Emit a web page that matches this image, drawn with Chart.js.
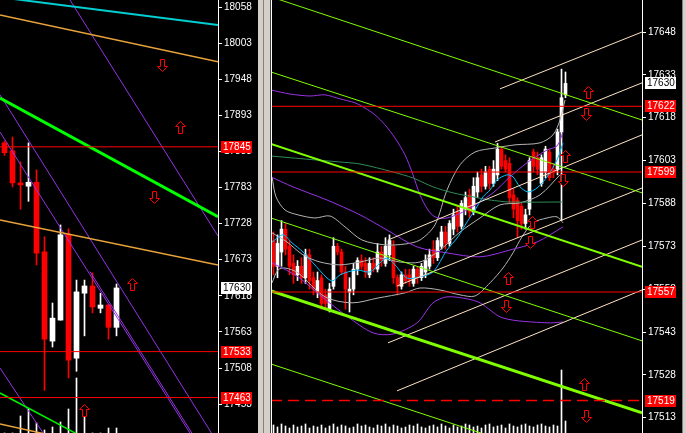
<!DOCTYPE html>
<html>
<head>
<meta charset="utf-8">
<title>chart</title>
<script src="https://cdn.jsdelivr.net/npm/chart.js"></script>
<style>
  body { margin: 0; background: #d4d0c8; width: 686px; height: 433px; overflow: hidden; position: relative; }
  .pane { position: absolute; top: 0; height: 433px; background: #000; }
  #left { left: 0; width: 258px; }
  #right { left: 271px; width: 411px; }
  .split { position: absolute; top: 0; height: 433px; width: 1px; background: #808080; }
</style>
</head>
<body>
<div class="pane" id="left"><canvas id="chartLeft" width="258" height="433"></canvas></div>
<div class="split" style="left:263px"></div>
<div class="split" style="left:270px;background:#404040"></div>
<div class="split" style="left:682px"></div>
<div class="pane" id="right"><canvas id="chartRight" width="411" height="433"></canvas></div>

<script>
// ---- left pane: candles ----
const leftOpen   = [17851, 17839, 17790, 17785, 17791, 17685, 17549, 17581, 17712, 17523, 17622, 17633, 17599, 17604, 17570];
const leftHigh   = [17854, 17860, 17822, 17851, 17810, 17708, 17607, 17726, 17720, 17642, 17642, 17653, 17622, 17605, 17636];
const leftLow    = [17832, 17784, 17750, 17762, 17665, 17474, 17540, 17581, 17493, 17503, 17557, 17592, 17592, 17552, 17557];
const leftClose  = [17836, 17790, 17787, 17791, 17683, 17552, 17584, 17711, 17520, 17624, 17633, 17601, 17604, 17570, 17630];
const leftVolume = [0, 0, 17, 24, 10, 3, 6, 11, 24, 55, 16, 0, 0, 5, 5];

const leftTicks = [18058, 18003, 17948, 17893, 17838, 17783, 17728, 17673, 17618, 17563, 17508, 17453];
const leftLevels = [17845, 17533, 17463];
const leftLast = 17630;

// trend lines: pairs of [bar index, price]
const leftCyanLine   = [[-0.5625, 18072.9], [26.6875, 18030.6]];
const leftOrangeLines = [
  [[-0.5625, 18045.8], [26.6875, 17974.7]],
  [[-0.5625, 17733.5], [26.6875, 17665.0]],
  [[-0.5625, 17422.7], [26.6875, 17349.6]]
];
const leftGreenThick = [[-0.5625, 17919.4], [26.6875, 17738.5]];
const leftGreenThin  = [[-0.5625, 17469.9], [26.6875, 17293.2]];
const leftPurpleLines = [
  [[6.9375, 18093.0], [26.6875, 17709.1]],
  [[-0.5625, 17924.2], [26.6875, 17392.9]],
  [[-0.5625, 17867.6], [26.6875, 17341.2]],
  [[10.6875, 17654.9], [26.6875, 17345.8]],
  [[-0.5625, 17508.0], [6.9375, 17370.1]]
];
const leftArrowsUp   = [[21.94, 17875.2], [16.06, 17634.5], [9.94, 17444.0]];
const leftArrowsDown = [[19.69, 17969.6], [18.81, 17768.5]];

// ---- right pane: candles ----
const rightOpen  = [17575,17566,17571,17579,17573,17567,17563,17566,17562,17570,17562,17557,17562,17556,17551,17559,17573,17571,17564,17557,
                    17558,17565,17568,17567,17563,17567,17565,17571,17567,17570,17573,17562,17559,17563,17563,17560,17565,17562,17564,17566,
                    17572,17569,17573,17578,17574,17579,17585,17580,17586,17591,17585,17592,17598,17594,17600,17595,17598,17607,17603,17602,
                    17591,17589,17587,17581,17586,17606,17604,17595,17599,17606,17600,17600,17613,17626];
const rightHigh  = [17578,17577,17582,17581,17575,17570,17568,17569,17572,17572,17564,17564,17563,17558,17560,17576,17574,17572,17566,17562,
                    17567,17569,17570,17569,17569,17569,17574,17573,17576,17577,17575,17563,17564,17565,17565,17566,17566,17567,17570,17572,
                    17575,17576,17580,17580,17582,17586,17587,17589,17592,17593,17597,17599,17600,17601,17601,17603,17609,17608,17605,17604,
                    17593,17590,17588,17586,17604,17607,17606,17605,17608,17607,17602,17614,17635,17634];
const rightLow   = [17563,17562,17566,17570,17563,17560,17561,17560,17560,17558,17556,17555,17551,17551,17550,17558,17570,17563,17551,17550,
                    17556,17563,17565,17562,17562,17564,17564,17566,17566,17568,17560,17556,17558,17560,17559,17559,17560,17561,17562,17565,
                    17567,17568,17572,17572,17573,17577,17578,17579,17584,17583,17584,17590,17592,17593,17593,17594,17596,17600,17599,17588,
                    17583,17576,17579,17579,17584,17599,17598,17594,17597,17596,17597,17598,17582,17625];
const rightClose = [17566,17574,17579,17572,17566,17563,17566,17562,17570,17561,17558,17561,17553,17553,17558,17573,17571,17564,17558,17558,
                    17565,17568,17566,17564,17567,17565,17571,17568,17573,17575,17562,17559,17563,17561,17561,17565,17562,17566,17568,17570,
                    17569,17575,17578,17574,17581,17584,17580,17588,17590,17585,17594,17597,17594,17599,17595,17600,17607,17601,17600,17590,
                    17586,17582,17581,17584,17603,17601,17600,17604,17607,17597,17599,17613,17625,17630];
const rightVolume = [8,6,9,7,5,8,6,7,9,5,7,6,8,5,7,9,6,8,7,5,6,9,7,8,6,5,8,7,9,6,8,7,5,6,8,7,9,6,5,7,
                     8,6,9,7,5,8,6,7,9,8,6,7,5,8,9,6,7,8,5,9,7,6,8,9,7,6,8,9,7,6,8,7,63,12];

const rightTicks = [17648, 17633, 17618, 17603, 17588, 17573, 17558, 17543, 17528, 17513];
const rightLevels = [17622, 17599, 17557];
const rightDashedLevel = 17519;
const rightLast = 17630;

const rightCyan = [[-0.375,17574.5],[2.375,17577.0],[4.625,17574.2],[7.375,17571.0],[9.875,17567.2],[13.375,17561.9],[14.875,17560.9],
  [16.625,17563.0],[20.875,17564.7],[24.125,17564.0],[26.625,17567.2],[28.375,17568.9],[30.375,17566.5],[33.375,17561.9],[36.625,17562.3],
  [39.875,17564.0],[43.375,17571.7],[46.125,17576.3],[48.375,17581.5],[50.375,17585.7],[52.375,17590.3],[54.125,17592.7],[55.875,17596.2],
  [58.375,17598.0],[59.875,17597.3],[61.625,17593.8],[63.625,17592.0],[65.875,17593.4],[68.375,17597.3],[70.875,17603.2],[72.375,17609.2]];
const rightSeaGreen = [[-0.625,17604.6],[7.375,17603.6],[16.625,17602.5],[21.625,17601.8],[29.875,17599.0],[34.875,17596.9],[39.875,17593.8],
  [44.875,17591.7],[49.875,17590.3],[54.125,17589.2],[59.125,17588.5],[72.375,17588.5]];
const rightPurpleUpper = [[-0.625,17627.7],[4.125,17626.3],[9.125,17625.6],[12.875,17626.0],[16.625,17624.6],[20.375,17623.2],[22.875,17621.4],
  [25.375,17619.0],[27.875,17615.5],[30.375,17610.9],[32.875,17605.0],[34.875,17598.0],[36.625,17591.0],[38.625,17585.7],[40.375,17583.3],
  [43.375,17582.9],[48.375,17585.7],[54.875,17591.7],[59.125,17597.3],[63.375,17602.2],[68.375,17606.7],[70.875,17608.1],[72.375,17613.0]];
const rightPurpleMid = [[-0.625,17597.3],[4.875,17593.8],[13.375,17589.2],[21.625,17584.0],[28.375,17578.7],[35.875,17572.8],[43.375,17570.7],
  [51.625,17569.3],[59.125,17571.7],[65.875,17574.5],[72.375,17579.8]];
const rightPurpleLower = [[-0.375,17567.2],[6.125,17562.3],[12.125,17555.3],[18.625,17548.3],[24.875,17542.7],[29.875,17542.3],[35.875,17546.2],
  [39.875,17553.2],[43.375,17555.3],[48.375,17554.6],[51.625,17553.2],[57.375,17547.9],[68.375,17546.2],[72.375,17546.5]];
const rightGrayUpper = [[-0.375,17597.3],[0.625,17590.3],[2.875,17585.7],[6.125,17584.0],[10.375,17582.9],[14.125,17583.6],[17.875,17579.8],
  [22.125,17575.2],[27.875,17573.5],[32.875,17573.8],[36.625,17575.2],[40.375,17580.5],[43.375,17592.7],[46.625,17601.5],[50.375,17606.0],
  [55.375,17607.4],[60.375,17608.5],[66.625,17609.2],[69.875,17612.0],[71.625,17617.2],[72.875,17624.2]];
const rightGrayMid = [[-0.375,17577.7],[3.375,17574.5],[7.375,17570.0],[11.625,17567.5],[16.625,17566.5],[21.625,17567.5],[26.625,17568.9],
  [31.625,17567.5],[36.625,17567.5],[41.625,17571.7],[46.625,17578.0],[51.625,17582.9],[56.625,17587.5],[61.625,17588.2],[66.625,17591.0],[71.625,17598.0]];
const rightGrayLower = [[-0.375,17560.2],[1.125,17564.7],[2.875,17565.4],[6.125,17563.7],[12.875,17555.3],[19.625,17553.2],[26.125,17554.9],
  [32.875,17556.7],[36.625,17558.4],[41.625,17557.7],[46.625,17556.0],[50.375,17555.6],[54.125,17560.2],[57.375,17565.4],[59.875,17570.7],
  [62.125,17576.3],[64.875,17581.2],[68.375,17582.9],[70.875,17583.3],[72.375,17581.2]];

const rightChannel = [   // falling yellow-green channel
  [[-0.625, 17660.3], [92.125, 17617.2]],
  [[-0.625, 17634.0], [92.125, 17591.7]],
  [[-0.625, 17608.8], [92.125, 17565.8]],
  [[-0.625, 17582.9], [92.125, 17539.9]],
  [[-0.625, 17557.4], [92.125, 17514.7]],
  [[-0.625, 17531.8], [92.125, 17489.1]]
];
const rightRising = [    // rising bisque lines
  [[56.625, 17628.1], [92.125, 17648.0]],
  [[55.375, 17609.5], [92.125, 17630.2]],
  [[28.625, 17575.2], [92.125, 17612.0]],
  [[30.875, 17559.1], [92.125, 17593.4]],
  [[28.625, 17539.2], [92.125, 17575.2]],
  [[30.875, 17522.4], [92.125, 17557.7]]
];
const rightArrowsUp   = [[78.625, 17627.0], [72.875, 17604.6], [64.625, 17581.2], [58.625, 17561.6], [77.625, 17524.5]];
const rightArrowsDown = [[78.125, 17619.0], [72.375, 17596.2], [64.125, 17574.5], [58.125, 17552.1], [78.125, 17513.3]];

const FONT = '"Liberation Sans", Arial, sans-serif';
const FONT_SIZE = 10;

function arrowImage(up) {
  const c = document.createElement('canvas');
  c.width = 11; c.height = 13;
  const g = c.getContext('2d');
  if (!up) { g.translate(0, 13); g.scale(1, -1); }
  g.beginPath();
  g.moveTo(5.5, 0.5); g.lineTo(10.5, 5.5); g.lineTo(7.5, 5.5); g.lineTo(7.5, 12.5);
  g.lineTo(3.5, 12.5); g.lineTo(3.5, 5.5); g.lineTo(0.5, 5.5); g.closePath();
  g.fillStyle = '#000'; g.fill();
  g.strokeStyle = '#ff0000'; g.lineWidth = 1; g.stroke();
  return c;
}
const upImg = arrowImage(true), downImg = arrowImage(false);

const pts = arr => arr.map(p => ({ x: p[0], y: p[1] }));

function line(points, color, width, extra) {
  return Object.assign({ type: 'line', data: pts(points), borderColor: color, borderWidth: width,
    pointRadius: 0, tension: 0, fill: false, order: 2 }, extra || {});
}

function candles(open, high, low, close, body) {
  const col = open.map((o, i) => close[i] >= o ? '#ffffff' : '#ff0000');
  return [
    { type: 'bar', data: high.map((h, i) => ({ x: i, y: [low[i], h] })), backgroundColor: col,
      barThickness: 1, grouped: false, order: 9 },
    { type: 'bar', data: open.map((o, i) => ({ x: i, y: [o, close[i]] })), backgroundColor: col,
      barThickness: body, grouped: false, minBarLength: 1, order: 8 }
  ];
}

function volume(vals) {
  return { type: 'bar', yAxisID: 'v', data: vals.map((v, i) => ({ x: i, y: v })), backgroundColor: '#ffffff',
    barThickness: 1, grouped: false, order: 10 };
}

// signal arrows, placed through the chart scales and snapped to whole pixels
const signalArrows = {
  id: 'signalArrows',
  afterDatasetsDraw(chart, args, opts) {
    const ctx = chart.ctx, xs = chart.scales.x, ys = chart.scales.y;
    ctx.save();
    ctx.beginPath();
    ctx.rect(chart.chartArea.left, chart.chartArea.top, chart.chartArea.width, chart.chartArea.height);
    ctx.clip();
    const put = (list, img) => list.forEach(p => {
      const px = Math.round(xs.getPixelForValue(p[0]) - img.width / 2);
      const py = Math.round(ys.getPixelForValue(p[1]) - img.height / 2);
      ctx.drawImage(img, px, py);
    });
    put(opts.up, upImg);
    put(opts.down, downImg);
    ctx.restore();
  }
};

const priceTags = {
  id: 'priceTags',
  afterDraw(chart, args, opts) {
    const ctx = chart.ctx, y = chart.scales.y;
    ctx.save();
    if (opts.frame) { ctx.fillStyle = '#fff'; ctx.fillRect(0, 0, 1, chart.height); }
    ctx.font = FONT_SIZE + 'px ' + FONT;
    ctx.textBaseline = 'middle';
    opts.tags.forEach(t => {
      const py = Math.round(y.getPixelForValue(t.value));
      ctx.fillStyle = t.bg;
      ctx.fillRect(y.left + 3, py - 6, 31, 12);
      ctx.fillStyle = t.fg;
      ctx.fillText(String(t.value), y.left + 5, py + 0.5);
    });
    ctx.restore();
  }
};

function paneOptions(xMin, xMax, yMin, yMax, ticks, tags, frame, up, down) {
  return {
    responsive: false, animation: false, events: [],
    layout: { padding: 0, autoPadding: false },
    plugins: {
      legend: { display: false }, tooltip: { enabled: false },
      priceTags: { tags: tags, frame: frame },
      signalArrows: { up: up, down: down }
    },
    scales: {
      x: { type: 'linear', min: xMin, max: xMax, display: false, offset: false },
      y: {
        type: 'linear', position: 'right', min: yMin, max: yMax,
        afterBuildTicks: s => { s.ticks = ticks.map(v => ({ value: v })); },
        afterFit: s => { s.width = 40; s.paddingTop = 0; s.paddingBottom = 0; },
        border: { color: '#ffffff', width: 1 },
        grid: { drawOnChartArea: false, drawTicks: true, tickLength: 4, color: '#ffffff' },
        ticks: { color: '#ffffff', padding: 2, autoSkip: false, font: { family: FONT, size: FONT_SIZE }, callback: v => String(v) }
      },
      v: { type: 'linear', display: false, min: 0, max: 433 }
    }
  };
}

const red = '#ff0000', white = '#ffffff';

// left pane
const LX0 = -0.5625, LX1 = 26.6875;
new Chart(document.getElementById('chartLeft'), {
  type: 'scatter',
  data: { datasets: [
    ...leftLevels.map(v => line([[LX0, v], [LX1, v]], red, 1, { order: 1 })),
    line(leftCyanLine, '#00ced1', 2),
    ...leftOrangeLines.map(l => line(l, '#e8a33a', 1.5)),
    line(leftGreenThick, '#00ff00', 3),
    line(leftGreenThin, '#00ee00', 1.5),
    ...leftPurpleLines.map(l => line(l, '#9932e6', 1)),
    ...candles(leftOpen, leftHigh, leftLow, leftClose, 5),
    volume(leftVolume)
  ] },
  options: paneOptions(LX0, LX1, 17409.0, 18068.7, leftTicks, [
    { value: leftLevels[0], bg: red, fg: white },
    { value: leftLast, bg: white, fg: '#000' },
    { value: leftLevels[1], bg: red, fg: white },
    { value: leftLevels[2], bg: red, fg: white }
  ], false, leftArrowsUp, leftArrowsDown),
  plugins: [signalArrows, priceTags]
});

// right pane
const RX0 = -0.625, RX1 = 92.125;
new Chart(document.getElementById('chartRight'), {
  type: 'scatter',
  data: { datasets: [
    ...rightLevels.map(v => line([[RX0, v], [RX1, v]], red, 1, { order: 1 })),
    line([[RX0, rightDashedLevel], [RX1, rightDashedLevel]], red, 1.5, { order: 1, borderDash: [11, 6] }),
    line(rightChannel[0], '#7fff00', 1),
    line(rightChannel[1], '#7fff00', 1),
    line(rightChannel[2], '#7fff00', 2),
    line(rightChannel[3], '#7fff00', 1),
    line(rightChannel[4], '#7fff00', 3),
    line(rightChannel[5], '#7fff00', 1),
    ...rightRising.map(l => line(l, '#ffe4c4', 1)),
    line(rightCyan, '#00bfff', 1, { tension: 0.3 }),
    line(rightSeaGreen, '#2e8b57', 1, { tension: 0.3 }),
    line(rightPurpleUpper, '#9932e6', 1, { tension: 0.3 }),
    line(rightPurpleMid, '#9932e6', 1, { tension: 0.3 }),
    line(rightPurpleLower, '#9932e6', 1, { tension: 0.3 }),
    line(rightGrayUpper, '#b4b4b4', 1, { tension: 0.3 }),
    line(rightGrayMid, '#b4b4b4', 1, { tension: 0.3 }),
    line(rightGrayLower, '#b4b4b4', 1, { tension: 0.3 }),
    ...candles(rightOpen, rightHigh, rightLow, rightClose, 3),
    volume(rightVolume)
  ] },
  options: paneOptions(RX0, RX1, 17507.65, 17659.2, rightTicks, [
    { value: rightLast, bg: white, fg: '#000' },
    { value: rightLevels[0], bg: red, fg: white },
    { value: rightLevels[1], bg: red, fg: white },
    { value: rightLevels[2], bg: red, fg: white },
    { value: rightDashedLevel, bg: red, fg: white }
  ], true, rightArrowsUp, rightArrowsDown),
  plugins: [signalArrows, priceTags]
});
</script>
</body>
</html>
